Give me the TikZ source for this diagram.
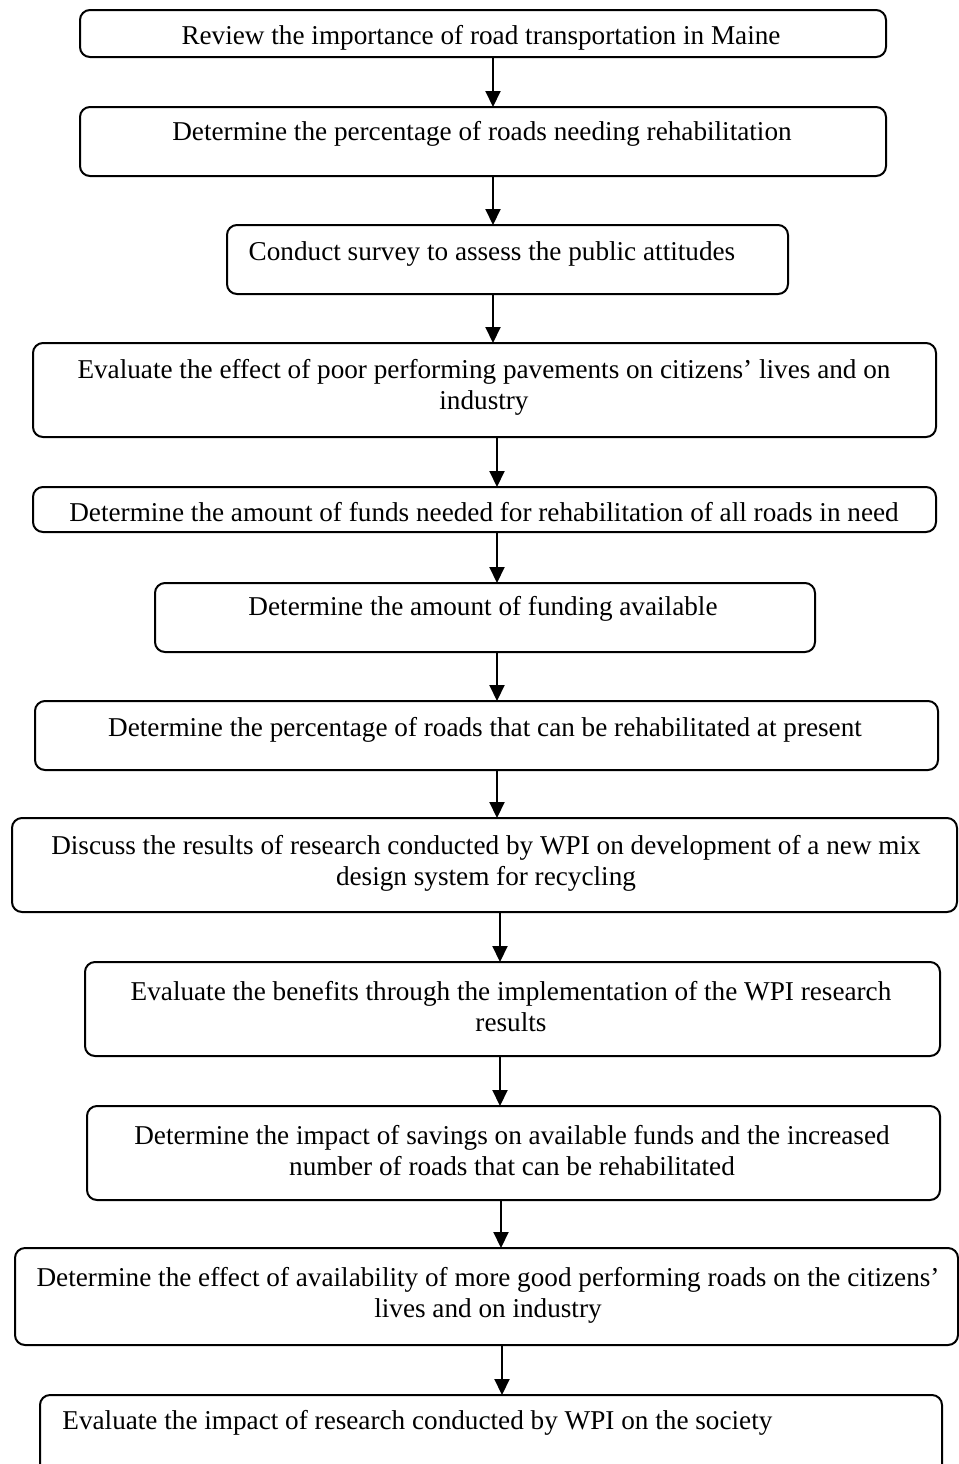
\documentclass[tikz,border=0pt]{standalone}
\usepackage{fontspec}
\setmainfont{Liberation Serif}
\usetikzlibrary{positioning}
\usetikzlibrary{arrows.meta}

\tikzset{
	stepbox/.style={draw, line width=1pt, rounded corners=5pt, inner sep=0pt, outer sep=0pt},
	steptext/.style={align=center, inner sep=0pt, font=\fontsize{13.6}{15.5}\selectfont},
	flow/.style={line width=1pt, -{Triangle[length=8pt,width=7.5pt]}}
}

\begin{document}
\begin{tikzpicture}[x=0.5pt,y=-0.5pt]

					\useasboundingbox (0,0) rectangle (959,1464);

					\node[stepbox, minimum width=403pt, minimum height=23.5pt] (b1) at (483,33.5) {};
					\node[stepbox, minimum width=403pt, minimum height=34.5pt] (b2) at (483,141.5) {};
					\node[stepbox, minimum width=280.5pt, minimum height=34.5pt] (b3) at (507.5,259.5) {};
					\node[stepbox, minimum width=451.5pt, minimum height=47pt] (b4) at (484.5,390) {};
					\node[stepbox, minimum width=451.5pt, minimum height=22.5pt] (b5) at (484.5,509.5) {};
					\node[stepbox, minimum width=330pt, minimum height=34.5pt] (b6) at (485,617.5) {};
					\node[stepbox, minimum width=451.5pt, minimum height=34.5pt] (b7) at (486.5,735.5) {};
					\node[stepbox, minimum width=472.5pt, minimum height=47pt] (b8) at (484.5,865) {};
					\node[stepbox, minimum width=427.5pt, minimum height=47pt] (b9) at (512.5,1009) {};
					\node[stepbox, minimum width=426.5pt, minimum height=47pt] (b10) at (513.5,1153) {};
					\node[stepbox, minimum width=471.5pt, minimum height=48.5pt] (b11) at (486.5,1296.5) {};
					\node[stepbox, minimum width=451pt, minimum height=40pt] (b12) at (491,1435) {};

					\node[steptext] (t1) at (481,38) {Review the importance of road transportation in Maine};
					\node[steptext] (t2) at (482,134) {Determine the percentage of roads needing rehabilitation};
					\node[steptext] (t3) at (492,254) {Conduct survey to assess the public attitudes};
					\node[steptext] (t4) at (484,387.5) {Evaluate the effect of poor performing pavements on citizens' lives and on\\industry};
					\node[steptext] (t5) at (484,512) {Determine the amount of funds needed for rehabilitation of all roads in need};
					\node[steptext] (t6) at (483,609) {Determine the amount of funding available};
					\node[steptext] (t7) at (485,730) {Determine the percentage of roads that can be rehabilitated at present};
					\node[steptext] (t8) at (486,863.5) {Discuss the results of research conducted by WPI on development of a new mix\\design system for recycling};
					\node[steptext] (t9) at (511,1006.5) {Evaluate the benefits through the implementation of the WPI research\\results};
					\node[steptext] (t10) at (512,1150.5) {Determine the impact of savings on available funds and the increased\\number of roads that can be rehabilitated};
					\node[steptext] (t11) at (488,1295.5) {Determine the effect of availability of more good performing roads on the citizens'\\lives and on industry};
					\node[steptext, anchor=west] (t12) at (62,1423) {Evaluate the impact of research conducted by WPI on the society};

					\draw[flow] (b1.south -| 493,0) -- (b2.north -| 493,0);
					\draw[flow] (b2.south -| 493,0) -- (b3.north -| 493,0);
					\draw[flow] (b3.south -| 493,0) -- (b4.north -| 493,0);
					\draw[flow] (b4.south -| 497,0) -- (b5.north -| 497,0);
					\draw[flow] (b5.south -| 497,0) -- (b6.north -| 497,0);
					\draw[flow] (b6.south -| 497,0) -- (b7.north -| 497,0);
					\draw[flow] (b7.south -| 497,0) -- (b8.north -| 497,0);
					\draw[flow] (b8.south -| 500,0) -- (b9.north -| 500,0);
					\draw[flow] (b9.south -| 500,0) -- (b10.north -| 500,0);
					\draw[flow] (b10.south -| 501,0) -- (b11.north -| 501,0);
					\draw[flow] (b11.south -| 502,0) -- (b12.north -| 502,0);

				\end{tikzpicture}
\end{document}
